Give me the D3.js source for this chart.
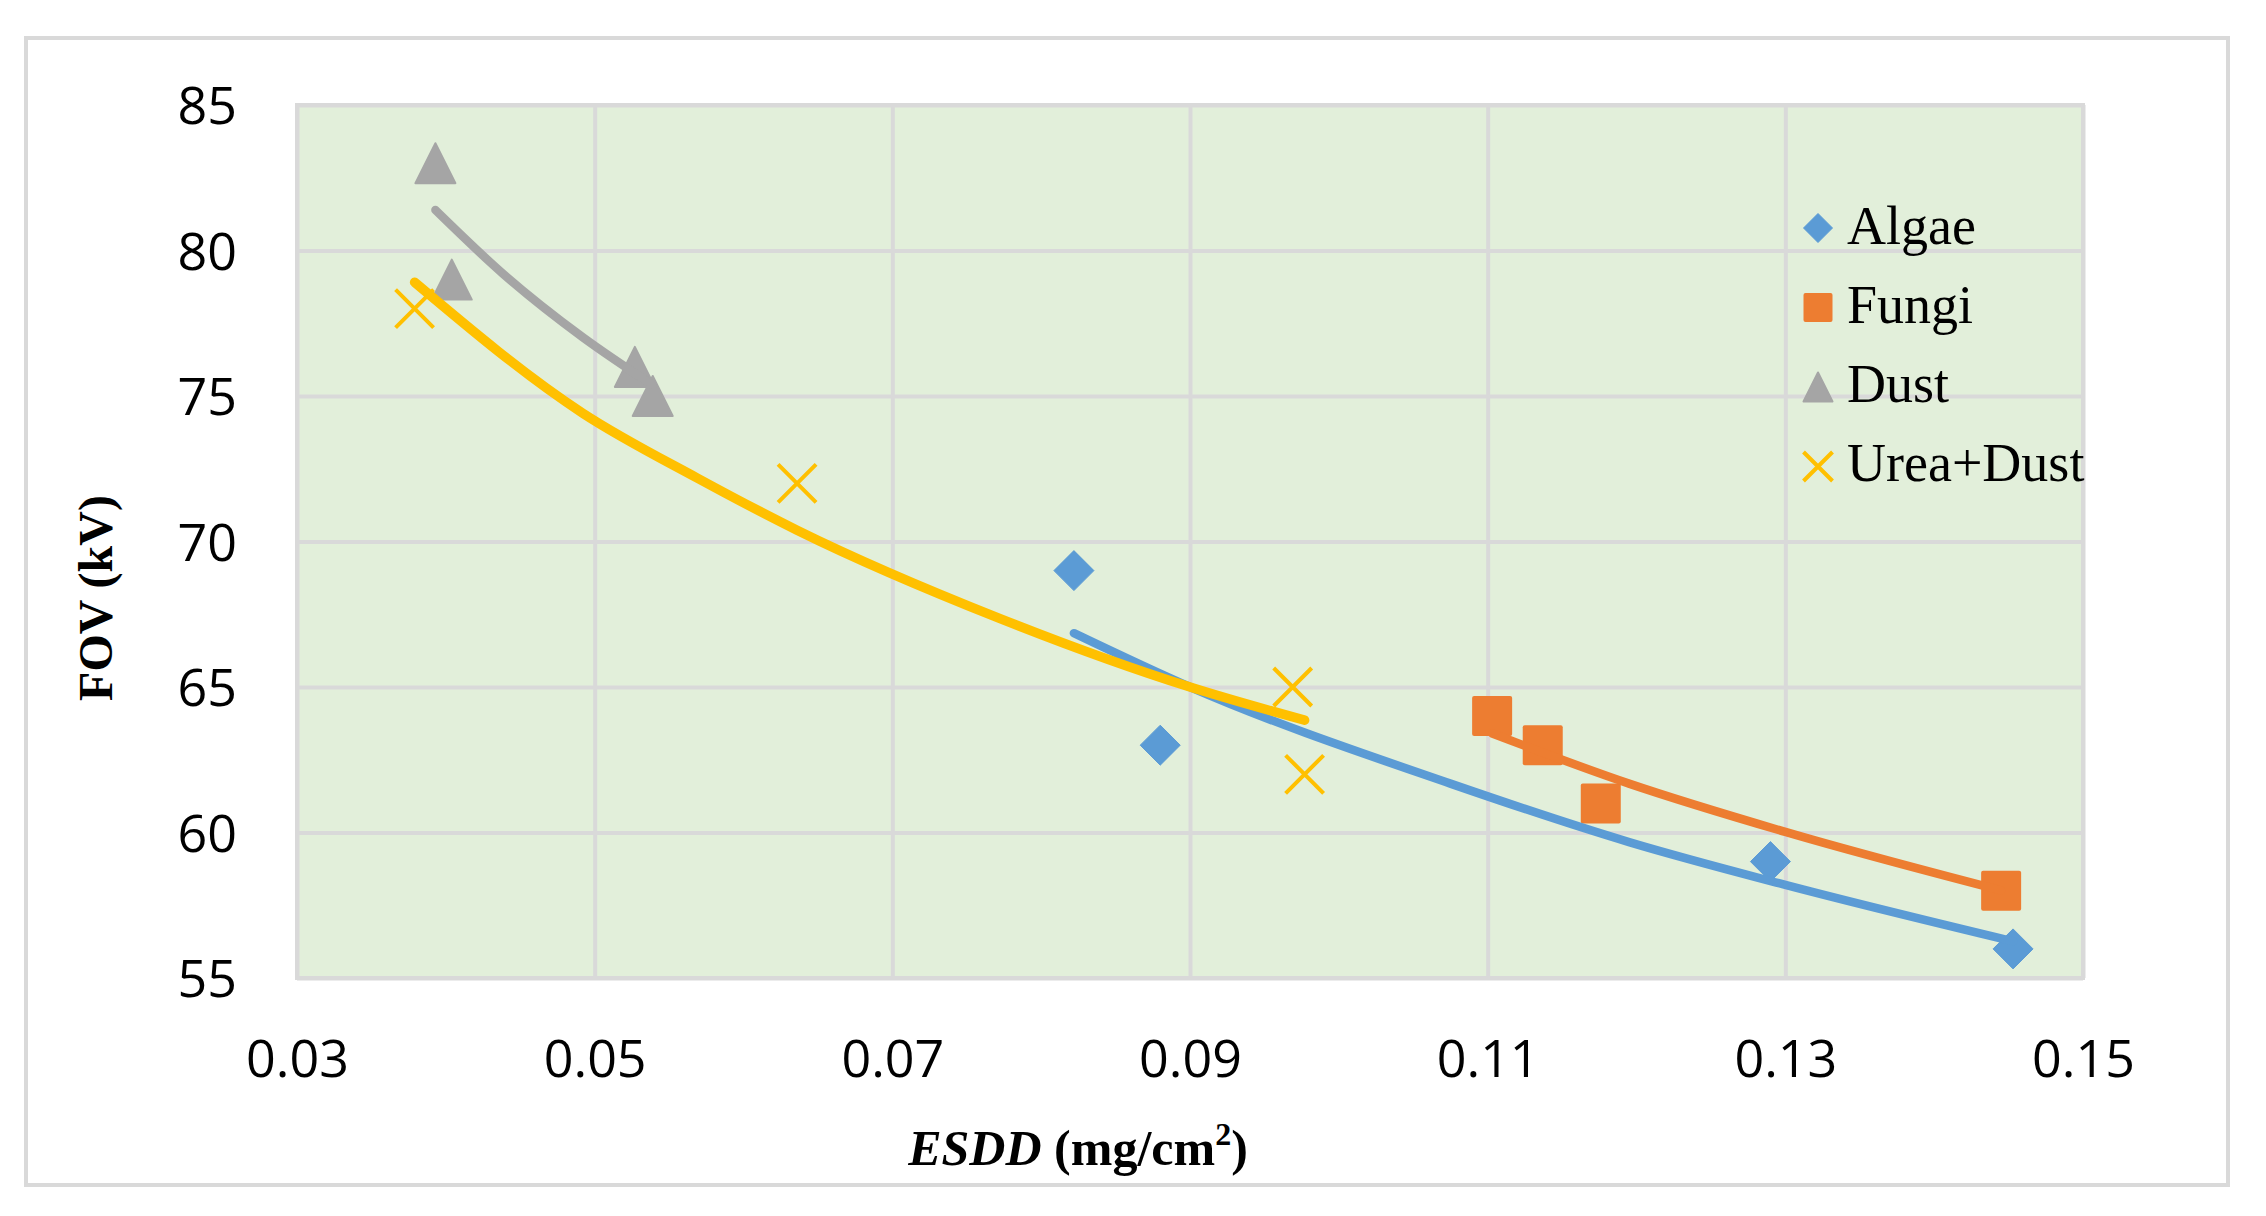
<!DOCTYPE html>
<html>
<head>
<meta charset="utf-8">
<script src="https://cdn.jsdelivr.net/npm/d3@7"></script>
<style>
  html, body { margin: 0; padding: 0; background: #fff; }
  svg { display: block; }
</style>
</head>
<body>
<svg id="chart" width="2266" height="1216"></svg>
<script>
// measured points
const seriesNames = ["Algae", "Fungi", "Dust", "Urea+Dust"];
const algaeX = [0.0822, 0.0880, 0.1290, 0.1453];
const algaeY = [69, 63, 59, 56];
const fungiX = [0.1103, 0.1137, 0.1176, 0.1445];
const fungiY = [64, 63, 61, 58];
const dustX = [0.0393, 0.0404, 0.0527, 0.0539];
const dustY = [83, 79, 76, 75];
const ureaX = [0.0379, 0.0636, 0.0969, 0.0977];
const ureaY = [78, 72, 65, 62];

// trendlines
const algaeTrendX = [0.0822, 0.0900, 0.1075, 0.1195, 0.1300, 0.1453];
const algaeTrendY = [66.85, 65.0, 61.68, 59.67, 58.2, 56.26];
const fungiTrendX = [0.1103, 0.1195, 0.1300, 0.1445];
const fungiTrendY = [63.4, 61.68, 60.02, 58.01];
const dustTrendX = [0.0393, 0.0438, 0.0492, 0.0539];
const dustTrendY = [81.39, 79.22, 77.02, 75.38];
const ureaTrendX = [0.0379, 0.0492, 0.0569, 0.0636, 0.0772, 0.0900, 0.0977];
const ureaTrendY = [78.91, 74.41, 72.18, 70.39, 67.36, 65.0, 63.86];

const xTicks = [0.03, 0.05, 0.07, 0.09, 0.11, 0.13, 0.15];
const yTicks = [55, 60, 65, 70, 75, 80, 85];

const colors = ["#5B9BD5", "#ED7D31", "#A5A5A5", "#FFC000"];
const grid = "#D9D9D9";

const svg = d3.select("#chart");
const pLeft = 297, pRight = 2083, pTop = 105, pBottom = 978;

const x = d3.scaleLinear().domain([0.03, 0.15]).range([pLeft, pRight]);
const y = d3.scaleLinear().domain([55, 85]).range([pBottom, pTop]);

function zip(xs, ys) { return xs.map((v, i) => [v, ys[i]]); }

// outer frame
svg.append("rect").attr("x", 26).attr("y", 38).attr("width", 2202).attr("height", 1147)
  .attr("fill", "#fff").attr("stroke", grid).attr("stroke-width", 4);

// plot area
svg.append("rect").attr("x", pLeft).attr("y", pTop)
  .attr("width", pRight - pLeft).attr("height", pBottom - pTop)
  .attr("fill", "#E2EFDA");

// y axis + horizontal grid
const yAxis = svg.append("g").attr("transform", "translate(" + pLeft + ",0)")
  .call(d3.axisLeft(y).tickValues(yTicks).tickSize(-(pRight - pLeft)).tickPadding(60));
yAxis.select(".domain").remove();
yAxis.selectAll("line").attr("stroke", grid).attr("stroke-width", 4);
yAxis.selectAll("text").attr("font-family", "'Open Sans', sans-serif")
  .attr("font-size", 52).attr("fill", "#000").attr("dy", "0.36em");

// x axis + vertical grid
const xAxis = svg.append("g").attr("transform", "translate(0," + pBottom + ")")
  .call(d3.axisBottom(x).tickValues(xTicks).tickFormat(d3.format(".2f"))
    .tickSize(-(pBottom - pTop)).tickPadding(62));
xAxis.select(".domain").remove();
xAxis.selectAll("line").attr("stroke", grid).attr("stroke-width", 4);
xAxis.selectAll("text").attr("font-family", "'Open Sans', sans-serif")
  .attr("font-size", 52).attr("fill", "#000");

// plot border
svg.append("rect").attr("x", pLeft).attr("y", pTop)
  .attr("width", pRight - pLeft).attr("height", pBottom - pTop)
  .attr("fill", "none").attr("stroke", grid).attr("stroke-width", 4);

// marker shapes
function diamond(g, s, c) {
  g.append("path").attr("d", "M0," + (-s / 2) + "L" + (s / 2) + ",0L0," + (s / 2) + "L" + (-s / 2) + ",0Z")
    .attr("fill", c).attr("stroke", c).attr("stroke-width", 1).attr("stroke-linejoin", "round");
}
function square(g, s, c) {
  g.append("rect").attr("x", -s / 2).attr("y", -s / 2).attr("width", s).attr("height", s)
    .attr("rx", 2).attr("fill", c);
}
function triangle(g, s, c) {
  g.append("path").attr("d", "M0," + (-s / 2) + "L" + (s / 2) + "," + (s / 2) + "L" + (-s / 2) + "," + (s / 2) + "Z")
    .attr("fill", c).attr("stroke", c).attr("stroke-width", 2).attr("stroke-linejoin", "round");
}
function cross(g, s, c) {
  g.append("path").attr("d", "M" + (-s / 2) + "," + (-s / 2) + "L" + (s / 2) + "," + (s / 2) +
    "M" + (s / 2) + "," + (-s / 2) + "L" + (-s / 2) + "," + (s / 2))
    .attr("fill", "none").attr("stroke", c).attr("stroke-width", 4);
}
const shapes = [diamond, square, triangle, cross];

const points = [zip(algaeX, algaeY), zip(fungiX, fungiY), zip(dustX, dustY), zip(ureaX, ureaY)];
const sizes = [40, 40, 40, 38];

points.forEach(function (data, k) {
  svg.append("g").selectAll("g").data(data).enter().append("g")
    .attr("transform", function (d) { return "translate(" + x(d[0]) + "," + y(d[1]) + ")"; })
    .each(function () { shapes[k](d3.select(this), sizes[k], colors[k]); });
});

// trendlines on top of markers
const trends = [zip(algaeTrendX, algaeTrendY), zip(fungiTrendX, fungiTrendY),
  zip(dustTrendX, dustTrendY), zip(ureaTrendX, ureaTrendY)];
const trendWidths = [8.5, 8.5, 8.5, 9.5];
const line = d3.line().x(d => x(d[0])).y(d => y(d[1])).curve(d3.curveMonotoneX);
trends.forEach(function (data, k) {
  svg.append("path").datum(data).attr("d", line)
    .attr("fill", "none").attr("stroke", colors[k]).attr("stroke-width", trendWidths[k])
    .attr("stroke-linecap", "round").attr("stroke-linejoin", "round");
});

// legend
const leg = svg.append("g");
seriesNames.forEach(function (name, i) {
  const g = leg.append("g").attr("transform", "translate(1818," + (228 + 79.5 * i) + ")");
  shapes[i](g, 29, colors[i]);
  leg.append("text").attr("x", 1847).attr("y", 244 + 79 * i)
    .attr("font-family", "'Liberation Serif', serif").attr("font-size", 54)
    .attr("fill", "#000").text(name);
});

// axis titles
const xt = svg.append("text").attr("x", 1078).attr("y", 1165).attr("text-anchor", "middle")
  .attr("font-family", "'Liberation Serif', serif").attr("font-size", 50)
  .attr("font-weight", "bold").attr("fill", "#000");
xt.append("tspan").attr("font-style", "italic").text("ESDD");
xt.append("tspan").text(" (mg/cm");
xt.append("tspan").attr("font-size", 32).attr("dy", -20).text("2");
xt.append("tspan").attr("dy", 20).text(")");

svg.append("text").attr("transform", "translate(112,598) rotate(-90)")
  .attr("text-anchor", "middle")
  .attr("font-family", "'Liberation Serif', serif").attr("font-size", 48)
  .attr("font-weight", "bold").attr("fill", "#000").text("FOV (kV)");
</script>
</body>
</html>
